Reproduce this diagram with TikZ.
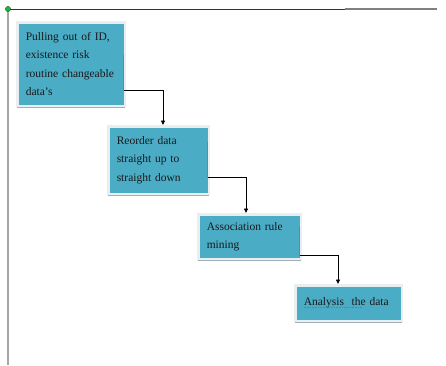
\documentclass[tikz,border=0pt]{standalone}
\usepackage{fontspec}
\setmainfont{Liberation Serif}
\usetikzlibrary{arrows.meta,shadows}
\definecolor{boxteal}{HTML}{4BACC6}
\definecolor{framegrey}{HTML}{E9EEF1}
\definecolor{shadowgrey}{HTML}{9EB0BA}
\definecolor{edgegrey}{HTML}{7F7F7F}
\definecolor{dotgreen}{HTML}{22B14C}

\begin{document}
\begin{tikzpicture}[x=1pt, y=-1pt,
  stage/.style={draw=framegrey, fill=boxteal, rectangle, line width=2.5pt,
                inner xsep=8.5pt, inner ysep=2pt, align=left,
                font=\fontsize{11.5}{18.3}\selectfont, text=black!90,
                drop shadow={shadow xshift=0pt, shadow yshift=-2.5pt,
                             fill=shadowgrey, opacity=1}},
  arr/.style={-{Triangle[length=4.5pt,width=4pt]}, line width=0.8pt},
  rim/.style={edgegrey, line width=1.3pt}
]
\useasboundingbox (0,0) rectangle (446,365);

% frame lines at top and left
\coordinate (origin) at (8,9);
\coordinate (topmid) at (345,9);
\coordinate (topend) at (437,9);
\coordinate (leftend) at (8,365);
\draw[black!80, line width=0.9pt] (origin) -- (topmid);
\draw[gray, line width=1.3pt] (topmid) -- (topend);
\draw[gray!70, line width=1.5pt] (origin) -- (leftend);
\fill[dotgreen, draw=green!40!black, line width=0.4pt] (origin) circle (2.6pt);

% steps
\node[stage, text width=90.5pt, minimum height=83.5pt] (extract) at (71,64)
  {Pulling out of ID,\\existence risk\\routine changeable\\data’s};
\node[stage, text width=83.5pt, minimum height=67.5pt] (reorder) at (158.5,160)
  {Reorder data\\straight up to\\straight down};
\node[stage, text width=85.5pt, minimum height=44.5pt] (assoc) at (249.5,236.5)
  {Association rule\\mining};
\node[stage, text width=89.5pt, minimum height=35.5pt] (analysis) at (348.5,303)
  {Analysis\ \ the data};

% spell-check underline
\draw[dotgreen, line width=0.6pt, densely dotted]
  ([xshift=9.5pt,yshift=-4.5pt]analysis.west) -- ++(58,0);

% connectors
\draw[rim] ([xshift=-2.5pt,yshift=9pt]extract.east) -- ([xshift=-2.5pt,yshift=-26pt]extract.east);
\draw[arr] ([xshift=-2.5pt,yshift=-26pt]extract.east) -| ([xshift=4.5pt]reorder.north);

\draw[rim] ([xshift=-2.5pt,yshift=18pt]reorder.east) -- ([xshift=-2.5pt,yshift=-17pt]reorder.east);
\draw[arr] ([xshift=-2.5pt,yshift=-17pt]reorder.east) -| ([xshift=-3.5pt]assoc.north);

\draw[rim] ([xshift=-2.5pt,yshift=9.5pt]assoc.east) -- ([xshift=-2.5pt,yshift=-19pt]assoc.east);
\draw[arr] ([xshift=-2.5pt,yshift=-19pt]assoc.east) -| ([xshift=-10.5pt]analysis.north);
\end{tikzpicture}
\end{document}
